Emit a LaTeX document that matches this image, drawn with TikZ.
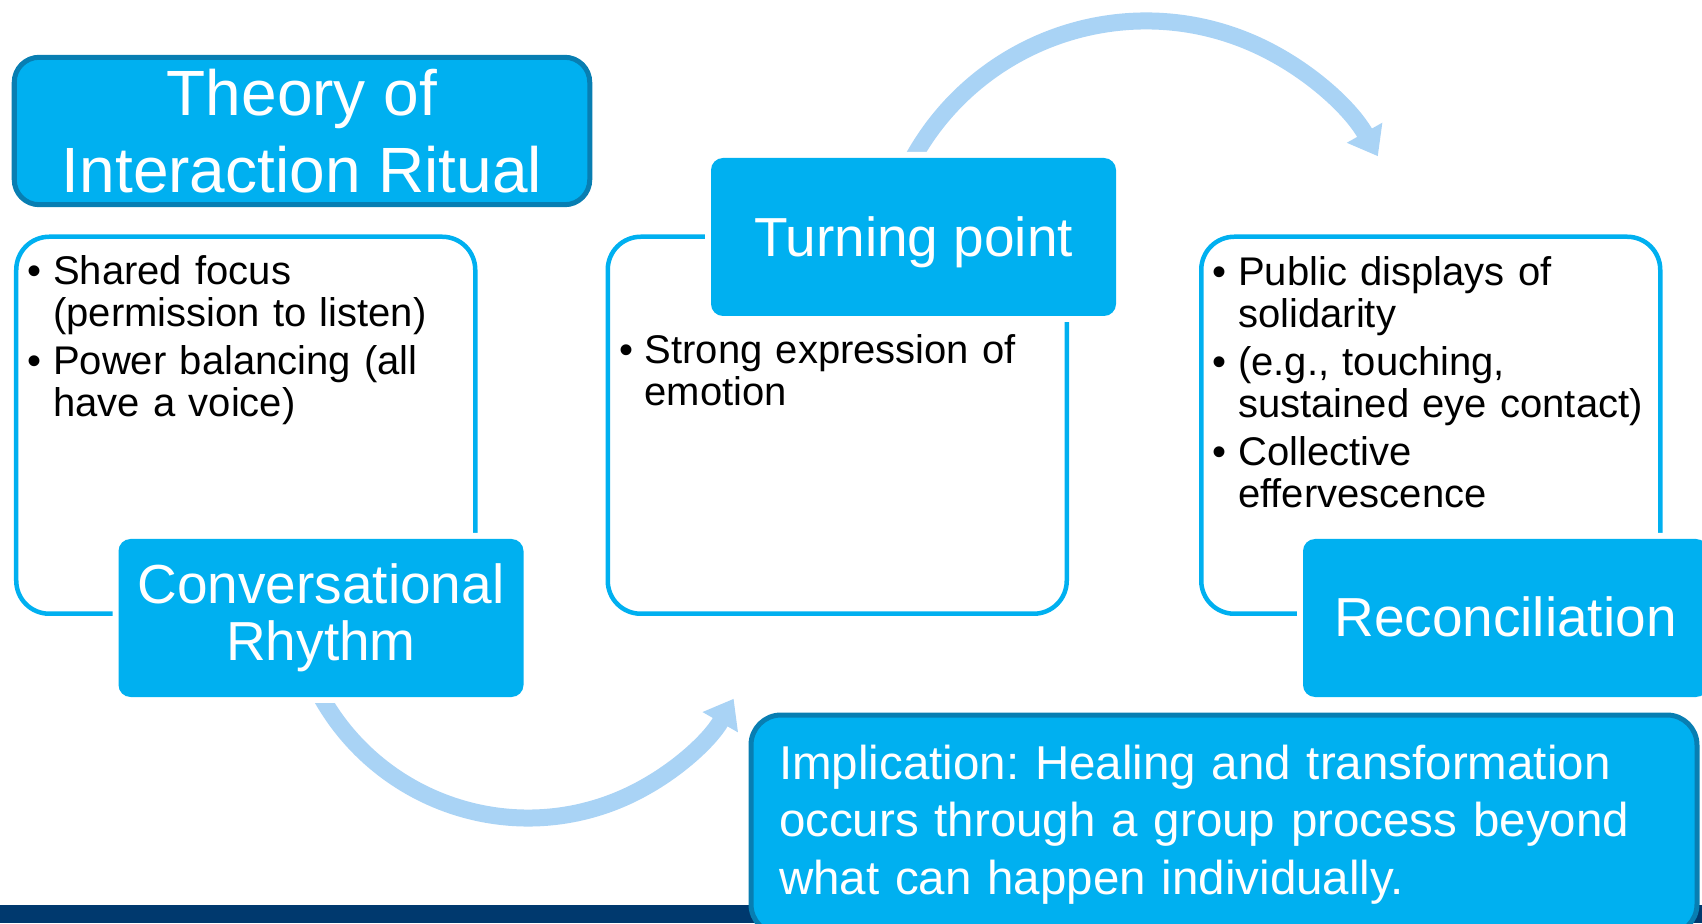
\documentclass[tikz,border=0pt]{standalone}
\usepackage{fontspec}
\setmainfont{Liberation Sans}
\usetikzlibrary{arrows.meta}
\definecolor{boxBlue}{RGB}{0, 176, 240}
\definecolor{edgeBlue}{RGB}{8, 126, 178}
\definecolor{arrowBlue}{RGB}{169, 211, 245}
\definecolor{barNavy}{RGB}{0, 57, 110}
\frenchspacing

% one bullet point with a hanging indent
\newcommand{\bul}[1]{\hangindent=0.255cm\hangafter=1\noindent\makebox[0.255cm][l]{\textbullet}#1\par}

\begin{document}
\begin{tikzpicture}[
    outlinebox/.style={draw=boxBlue, line width=0.045cm, rounded corners=0.33cm, minimum width=4.59cm, minimum height=3.77cm, anchor=south west, inner sep=0},
    stagebox/.style={fill=boxBlue, rounded corners=0.12cm, minimum width=4.05cm, minimum height=1.58cm, inner sep=0, text=white, align=center, font=\fontsize{0.55cm}{0.57cm}\selectfont, preaction={draw=white, line width=0.12cm}},
    bullets/.style={anchor=north west, inner sep=0, text width=4.35cm, align=left, font=\fontsize{0.4cm}{0.42cm}\selectfont},
    headbox/.style={draw=edgeBlue, line width=0.05cm, fill=boxBlue, rounded corners=0.25cm, text=white},
    flow/.style={draw=arrowBlue, line width=0.17cm, -{Triangle[length=0.27cm, width=0.39cm]}}
  ]
  \useasboundingbox (0,0) rectangle (17.02,9.23);

  % Footer band
  \fill[barNavy] (0,0) rectangle (17.02,0.18);

  % Curved arrows between the stages (tails run under the boxes)
  \coordinate (lowturn) at (5.28,3.42);
  \coordinate (highturn) at (11.46,6.356);
  \draw[flow] ([shift={(205:2.37)}]lowturn) arc[start angle=205, end angle=330.2, radius=2.37];
  \draw[flow] ([shift={(155:2.664)}]highturn) arc[start angle=155, end angle=29.5, radius=2.664];

  % Outlined frames
  \node[outlinebox] (focusframe) at (0.14,3.07) {};
  \node[outlinebox] (emotionframe) at (6.055,3.07) {};
  \node[outlinebox] (solidframe) at (11.99,3.07) {};

  % Bullet lists
  \node[bullets] (focuslist) at (0.27,6.685) {\bul{Shared focus\newline (permission to listen)}\vspace{0.06cm}\bul{Power balancing (all\newline have a voice)}};
  \node[bullets] (emotionlist) at (6.185,5.895) {\bul{Strong expression of\newline emotion}};
  \node[bullets] (solidlist) at (12.12,6.675) {\bul{Public displays of\newline solidarity}\vspace{0.06cm}\bul{(e.g., touching,\newline sustained eye contact)}\vspace{0.06cm}\bul{Collective\newline effervescence}};

  % Stage labels
  \node[stagebox] (rhythm) at (3.21,3.05) {Conversational\\Rhythm};
  \node[stagebox, text depth=0pt] (turning) at (9.135,6.86) {Turning point};
  \node[stagebox] (reconcile) at (15.055,3.05) {\raisebox{0.03cm}{Reconciliation}};

  % Title and closing remark
  \node[headbox, minimum width=5.755cm, minimum height=1.47cm, align=center, font=\fontsize{0.64cm}{0.77cm}\selectfont] (title) at (3.02,7.92) {Theory of\\Interaction Ritual};
  \node[headbox, anchor=north west, inner xsep=0.28cm, inner ysep=0.3cm, text width=8.9cm, align=left, rounded corners=0.3cm, font=\fontsize{0.475cm}{0.575cm}\selectfont] (implication) at (7.485,2.105) {Implication: Healing and transformation\\occurs through a group process beyond\\what can happen individually.};
\end{tikzpicture}
\end{document}
